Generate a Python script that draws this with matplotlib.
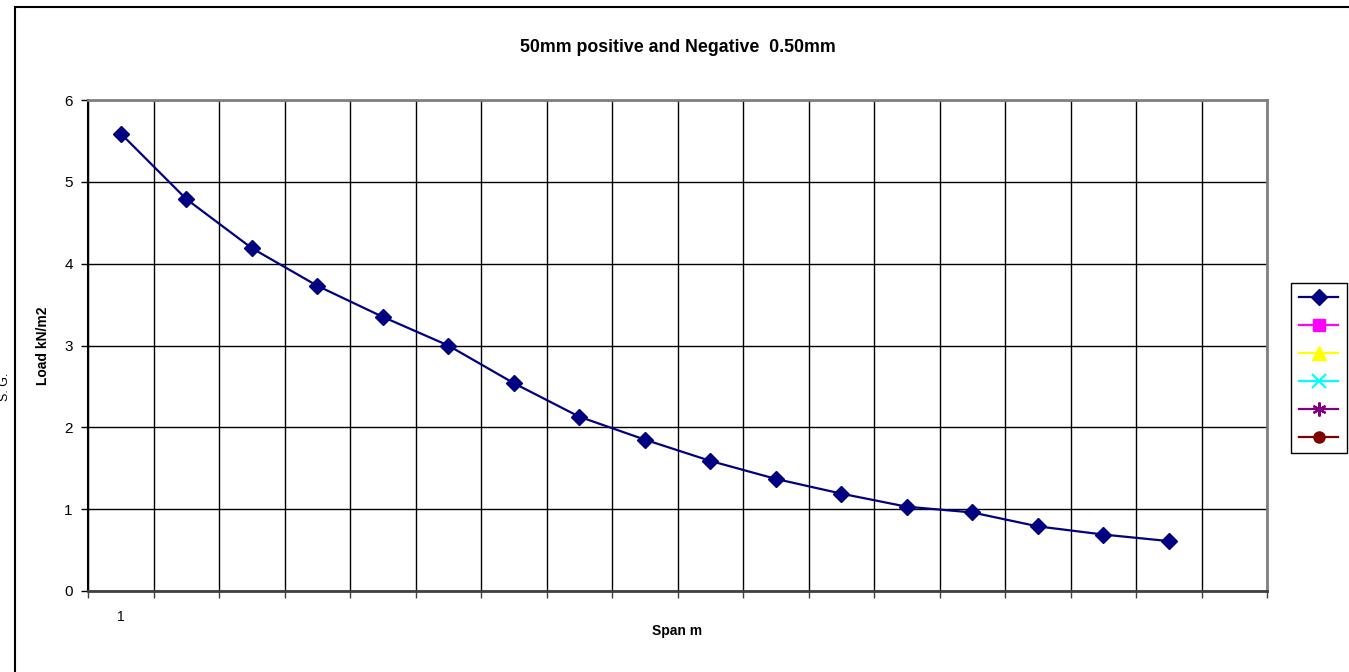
import matplotlib
matplotlib.use("Agg")
import matplotlib.pyplot as plt
from matplotlib.patches import Rectangle

plt.rcParams['font.family'] = ['Liberation Sans', 'DejaVu Sans']

# ---- data ----
title = "50mm positive and Negative  0.50mm"
x_label = "Span m"
y_label = "Load kN/m2"
n_categories = 18
category_labels = ["1"] + [""] * 17
load_main = [5.59, 4.79, 4.19, 3.73, 3.35, 3.00, 2.54, 2.13, 1.85, 1.59,
             1.37, 1.19, 1.03, 0.96, 0.79, 0.69, 0.61]
series_colors = ["#000080", "#FF00FF", "#FFFF00", "#00FFFF", "#800080", "#800000"]
series_markers = ["D", "s", "^", "x", (6, 2, 0), "o"]
series_values = [load_main, [], [], [], [], []]

W, H = 1349, 672
fig = plt.figure(figsize=(W / 100, H / 100), dpi=100)
ax = fig.add_axes([88 / W, 1 - 591 / H, (1267 - 88) / W, (591 - 100) / H])

# outer chart frame
fig.patches.append(Rectangle((15 / W, -0.05), 1.2, 1 - 7 / H + 0.05,
                             transform=fig.transFigure, fill=False,
                             edgecolor="black", linewidth=1.5, zorder=0))

handles = []
for vals, col, mk in zip(series_values, series_colors, series_markers):
    xs = [i + 0.5 for i in range(len(vals))]
    ms = 8 if mk in ("D", "o", "s") else 10
    thin = mk == "x" or isinstance(mk, tuple)
    ln, = ax.plot(xs, vals, color=col, marker=mk, markersize=ms, linewidth=1.6,
                  markeredgewidth=1.6 if thin else 1, zorder=3)
    handles.append(ln)

ax.set_xlim(0, n_categories)
ax.set_ylim(0, 6)
ax.set_xticks(range(n_categories + 1))
ax.set_xticklabels([])
ax.set_xticks([i + 0.5 for i in range(n_categories)], minor=True)
ax.set_xticklabels(category_labels, minor=True)
ax.tick_params(axis="x", which="minor", length=0, pad=14, labelsize=10)
ax.tick_params(axis="x", which="major", length=5, width=1, color="#404040")
ax.set_yticks(range(7))
ax.tick_params(axis="y", length=5, width=1, labelsize=11, pad=6)
ax.grid(True, which="major", color="black", linewidth=1)
ax.set_axisbelow(True)

for side in ("top", "right"):
    ax.spines[side].set_color("#808080")
    ax.spines[side].set_linewidth(2)
ax.spines["left"].set_color("black")
ax.spines["left"].set_linewidth(1.5)
ax.spines["bottom"].set_color("#404040")
ax.spines["bottom"].set_linewidth(2)

ax.set_xlabel(x_label, fontsize=10, fontweight="bold", labelpad=0)
ax.set_ylabel(y_label, fontsize=10, fontweight="bold", labelpad=10)
fig.text((88 + 1267) / 2 / W, 1 - 47 / H, title, ha="center", va="center",
         fontsize=12.8, fontweight="bold")

# text cut at the far left edge, kept just inside the picture
fig.text(5 / W, 1 - 387 / H, "S. G.", rotation=90, ha="center", va="center",
         fontsize=9)

leg = fig.legend(handles, [""] * 6, loc="center left",
                 bbox_to_anchor=(1291 / W, 1 - 368 / H), frameon=True,
                 fancybox=False, edgecolor="black", framealpha=1,
                 handlelength=2.8, handletextpad=0, labelspacing=1.0,
                 borderpad=0.6, borderaxespad=0, fontsize=10)
leg.get_frame().set_linewidth(1)

fig.savefig("out.png", dpi=100)
